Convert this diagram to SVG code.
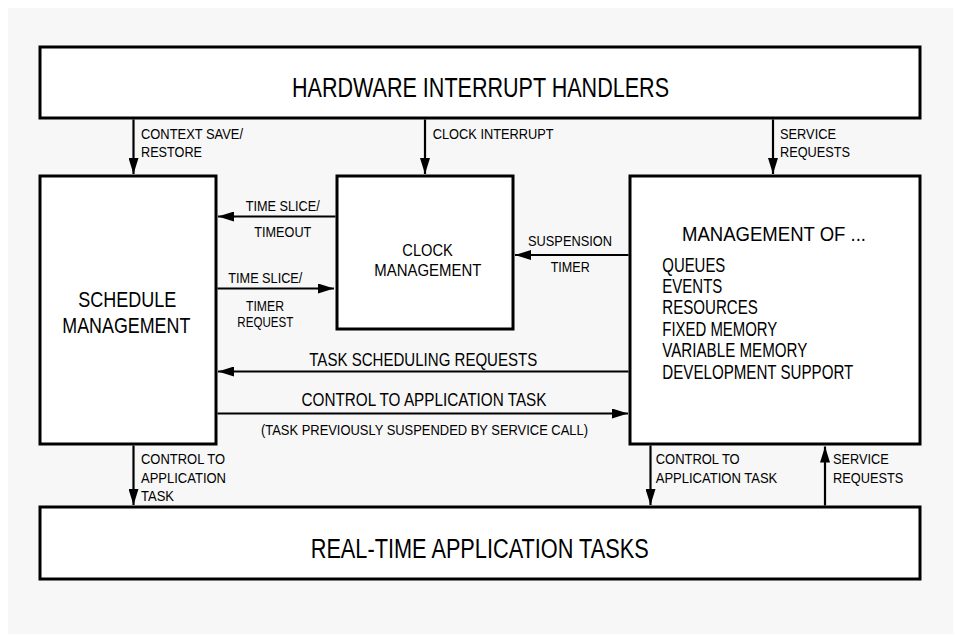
<svg xmlns="http://www.w3.org/2000/svg" width="956" height="635" viewBox="0 0 956 635">
<style>
.box{fill:#ffffff;stroke:#000;stroke-width:3}
.ln{stroke:#000;stroke-width:2.2;fill:none}
text{font-family:"Liberation Sans",Arial,sans-serif;fill:#000}
.s{font-size:15.5px}
.m{font-size:18px}
.b{font-size:27px}
.sc{font-size:22px}
.ck{font-size:17px}
.mg{font-size:21px}
.li{font-size:19.5px}
</style>
<defs>
<marker id="ah" markerUnits="userSpaceOnUse" markerWidth="17" markerHeight="10" refX="16" refY="5" orient="auto">
<path d="M0,0 L16,5 L0,10 z" fill="#000"/>
</marker>
</defs>
<rect x="0" y="0" width="956" height="635" fill="#ffffff"/>
<rect x="8" y="8" width="945" height="626" fill="#f7f7f7"/>

<g id="hw">
<rect class="box" x="40" y="47" width="880" height="71"/>
<text class="b" x="292" y="97" textLength="377" lengthAdjust="spacingAndGlyphs">HARDWARE INTERRUPT HANDLERS</text>
</g>
<g id="schedule">
<rect class="box" x="40" y="176" width="176" height="268"/>
<text class="sc" x="78.3" y="307.3" textLength="98" lengthAdjust="spacingAndGlyphs">SCHEDULE</text>
<text class="sc" x="62.3" y="333" textLength="128" lengthAdjust="spacingAndGlyphs">MANAGEMENT</text>
</g>
<g id="clock">
<rect class="box" x="337" y="176" width="176" height="153"/>
<text class="ck" x="402.3" y="256" textLength="50.5" lengthAdjust="spacingAndGlyphs">CLOCK</text>
<text class="ck" x="374.3" y="275.7" textLength="107" lengthAdjust="spacingAndGlyphs">MANAGEMENT</text>
</g>
<g id="mgmt">
<rect class="box" x="630" y="176" width="290" height="268"/>
<text class="mg" x="682" y="240.7" textLength="184" lengthAdjust="spacingAndGlyphs">MANAGEMENT OF ...</text>
<text class="li" x="662.3" y="272.3" textLength="63" lengthAdjust="spacingAndGlyphs">QUEUES</text>
<text class="li" x="662.3" y="293.3" textLength="60" lengthAdjust="spacingAndGlyphs">EVENTS</text>
<text class="li" x="662.3" y="314.3" textLength="95.6" lengthAdjust="spacingAndGlyphs">RESOURCES</text>
<text class="li" x="662.3" y="336" textLength="115" lengthAdjust="spacingAndGlyphs">FIXED MEMORY</text>
<text class="li" x="662.3" y="356.7" textLength="145" lengthAdjust="spacingAndGlyphs">VARIABLE MEMORY</text>
<text class="li" x="662.3" y="379" textLength="191" lengthAdjust="spacingAndGlyphs">DEVELOPMENT SUPPORT</text>
</g>
<g id="rt">
<rect class="box" x="40" y="507" width="880" height="72"/>
<text class="b" x="310.7" y="558" textLength="338" lengthAdjust="spacingAndGlyphs">REAL-TIME APPLICATION TASKS</text>
</g>

<g id="connectors">
<line class="ln" x1="133.5" y1="119.5" x2="133.5" y2="174" marker-end="url(#ah)"/>
<line class="ln" x1="425" y1="119.5" x2="425" y2="174" marker-end="url(#ah)"/>
<line class="ln" x1="773" y1="119.5" x2="773" y2="174" marker-end="url(#ah)"/>
<line class="ln" x1="335.5" y1="216.5" x2="218" y2="216.5" marker-end="url(#ah)"/>
<line class="ln" x1="217.5" y1="288.5" x2="334" y2="288.5" marker-end="url(#ah)"/>
<line class="ln" x1="628.5" y1="255" x2="515" y2="255" marker-end="url(#ah)"/>
<line class="ln" x1="628.5" y1="371.5" x2="218" y2="371.5" marker-end="url(#ah)"/>
<line class="ln" x1="217.5" y1="413.5" x2="628" y2="413.5" marker-end="url(#ah)"/>
<line class="ln" x1="133.5" y1="445.5" x2="133.5" y2="505" marker-end="url(#ah)"/>
<line class="ln" x1="650.5" y1="445.5" x2="650.5" y2="505" marker-end="url(#ah)"/>
<line class="ln" x1="825" y1="505.5" x2="825" y2="446.5" marker-end="url(#ah)"/>

<text class="s" x="141" y="139" textLength="102" lengthAdjust="spacingAndGlyphs">CONTEXT SAVE/</text>
<text class="s" x="141" y="157" textLength="61" lengthAdjust="spacingAndGlyphs">RESTORE</text>
<text class="s" x="432.7" y="139" textLength="121" lengthAdjust="spacingAndGlyphs">CLOCK INTERRUPT</text>
<text class="s" x="780" y="139" textLength="56" lengthAdjust="spacingAndGlyphs">SERVICE</text>
<text class="s" x="780" y="157" textLength="70" lengthAdjust="spacingAndGlyphs">REQUESTS</text>
<text class="s" x="245.7" y="210.7" textLength="74" lengthAdjust="spacingAndGlyphs">TIME SLICE/</text>
<text class="s" x="254.3" y="237.3" textLength="57" lengthAdjust="spacingAndGlyphs">TIMEOUT</text>
<text class="s" x="228.3" y="283.3" textLength="74" lengthAdjust="spacingAndGlyphs">TIME SLICE/</text>
<text class="s" x="246" y="311" textLength="38" lengthAdjust="spacingAndGlyphs">TIMER</text>
<text class="s" x="237.3" y="327" textLength="56" lengthAdjust="spacingAndGlyphs">REQUEST</text>
<text class="s" x="528" y="246" textLength="84" lengthAdjust="spacingAndGlyphs">SUSPENSION</text>
<text class="s" x="550.7" y="272.3" textLength="39" lengthAdjust="spacingAndGlyphs">TIMER</text>
<text class="m" x="309.3" y="366" textLength="228" lengthAdjust="spacingAndGlyphs">TASK SCHEDULING REQUESTS</text>
<text class="m" x="301.5" y="406" textLength="245" lengthAdjust="spacingAndGlyphs">CONTROL TO APPLICATION TASK</text>
<text class="s" x="261" y="435" textLength="327" lengthAdjust="spacingAndGlyphs">(TASK PREVIOUSLY SUSPENDED BY SERVICE CALL)</text>
<text class="s" x="141" y="464" textLength="84" lengthAdjust="spacingAndGlyphs">CONTROL TO</text>
<text class="s" x="141" y="483.3" textLength="85" lengthAdjust="spacingAndGlyphs">APPLICATION</text>
<text class="s" x="141" y="501" textLength="33" lengthAdjust="spacingAndGlyphs">TASK</text>
<text class="s" x="655.7" y="464" textLength="84" lengthAdjust="spacingAndGlyphs">CONTROL TO</text>
<text class="s" x="655.7" y="483.3" textLength="121.6" lengthAdjust="spacingAndGlyphs">APPLICATION TASK</text>
<text class="s" x="833" y="464" textLength="55.7" lengthAdjust="spacingAndGlyphs">SERVICE</text>
<text class="s" x="833" y="483.3" textLength="70.3" lengthAdjust="spacingAndGlyphs">REQUESTS</text>
</g>
</svg>
